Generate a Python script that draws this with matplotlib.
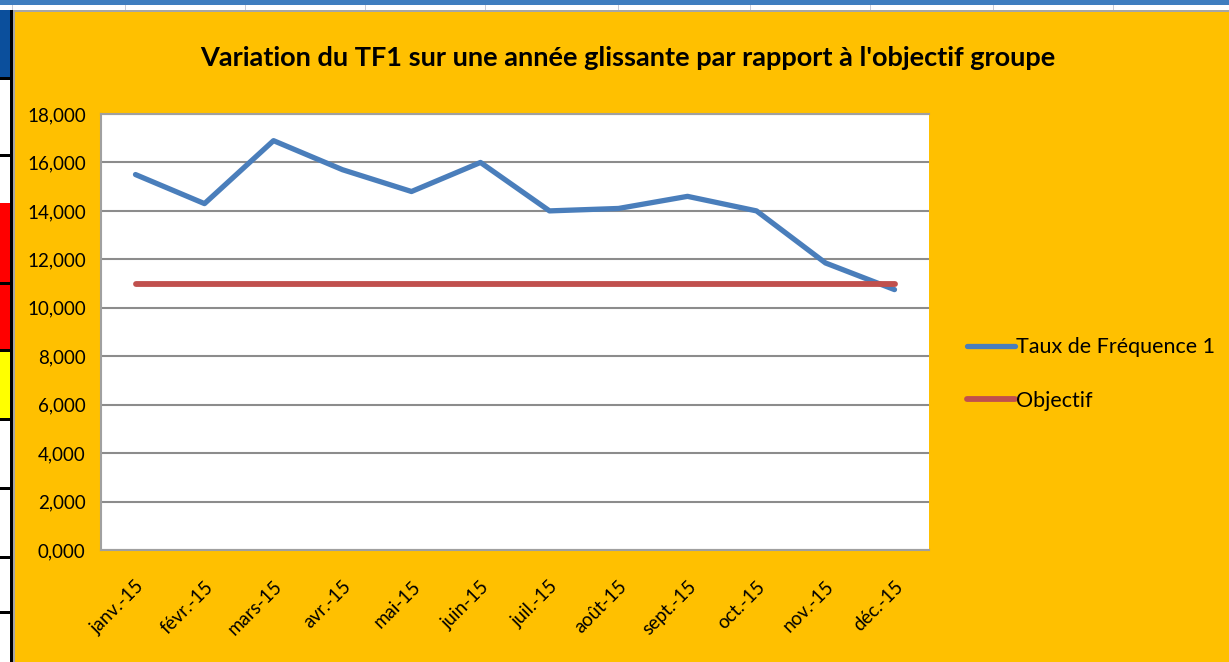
import matplotlib.pyplot as plt
from matplotlib.patches import Rectangle
from matplotlib.ticker import FuncFormatter

# Données (TF1 en milliers, format français)
mois = ['janv.-15', 'févr.-15', 'mars-15', 'avr.-15', 'mai-15', 'juin-15',
        'juil.-15', 'août-15', 'sept.-15', 'oct.-15', 'nov.-15', 'déc.-15']
tf1 = [15.5, 14.3, 16.9, 15.7, 14.8, 16.0, 14.0, 14.1, 14.6, 14.0, 11.85, 10.75]
objectif = [11.0, 11.0, 11.0, 11.0, 11.0, 11.0, 11.0, 11.0, 11.0, 11.0, 11.0, 11.0]
y_ticks = [0, 2, 4, 6, 8, 10, 12, 14, 16, 18]

W, H = 1229, 662
ORANGE = '#FFC000'
BLEU = '#4A7EBB'
ROUGE = '#C0504D'
FONT = 'Lato'

fig = plt.figure(figsize=(W / 100, H / 100), dpi=100, facecolor='white')


def box(x0, y0, x1, y1, color, z=-5):
    # rectangle en pixels (origine en haut à gauche)
    fig.add_artist(Rectangle((x0 / W, 1 - y1 / H), (x1 - x0) / W, (y1 - y0) / H,
                             transform=fig.transFigure, facecolor=color,
                             edgecolor='none', zorder=z))


# Fond de la feuille Excel autour du graphique
box(0, 0, W, 5, '#3E7DBF')
for xs in [12, 125, 245, 365, 485, 618, 750, 870, 993, 1113]:
    box(xs, 5, xs + 1, 10, '#C8CCD8')
box(0, 10, 11, 78, '#0B4F9C')
box(0, 203, 11, 350, '#FF0000')
box(0, 351, 11, 419, '#FFFF00')
for yl in [77, 154, 282, 349, 418, 487, 556, 611]:
    box(0, yl, 11, yl + 3, 'black')
box(10, 10, 13, H, 'black')

# Zone du graphique
box(14, 11, W, H, ORANGE)
box(13, 10, W, 12, '#A6A6A6', z=-4)
box(13, 10, 15, H, '#A6A6A6', z=-4)

ax = fig.add_axes([101 / W, 1 - 550 / H, (929 - 101) / W, (550 - 114) / H])
ax.set_facecolor('white')

x = range(len(mois))
ax.plot(x, tf1, color=BLEU, lw=3.8, solid_capstyle='round', label='Taux de Fréquence 1', zorder=3)
ax.plot(x, objectif, color=ROUGE, lw=4.2, solid_capstyle='round', label='Objectif', zorder=3)

ax.set_xlim(-0.5, len(mois) - 0.5)
ax.set_ylim(0, 18)
ax.set_yticks(y_ticks)
ax.yaxis.set_major_formatter(FuncFormatter(lambda v, p: f'{v:.3f}'.replace('.', ',')))
ax.set_xticks(list(x))
ax.set_xticklabels(mois, rotation=45, ha='right', va='top', rotation_mode='anchor')
ax.tick_params(length=0, labelsize=13.5)
ax.tick_params(axis='y', pad=11)
ax.tick_params(axis='x', pad=20)
for lab in ax.get_xticklabels() + ax.get_yticklabels():
    lab.set_family(FONT)

ax.grid(axis='y', color='#8C8C8C', lw=1.5)
ax.set_axisbelow(True)
for side in ['left', 'top', 'bottom']:
    ax.spines[side].set_color('#A0A0A0')
    ax.spines[side].set_linewidth(1.5)
ax.spines['right'].set_visible(False)

fig.text(628 / W, 1 - 58 / H, "Variation du TF1 sur une année glissante par rapport à l'objectif groupe",
         ha='center', va='center', fontsize=19.5, weight='bold', family=FONT)

fig.legend(loc='center left', bbox_to_anchor=(948 / W, 1 - 374 / H), frameon=False,
           prop={'family': FONT, 'size': 15.5}, handlelength=2.2, handletextpad=0.08,
           labelspacing=1.55)

fig.savefig('out.png', dpi=100, facecolor=fig.get_facecolor())
